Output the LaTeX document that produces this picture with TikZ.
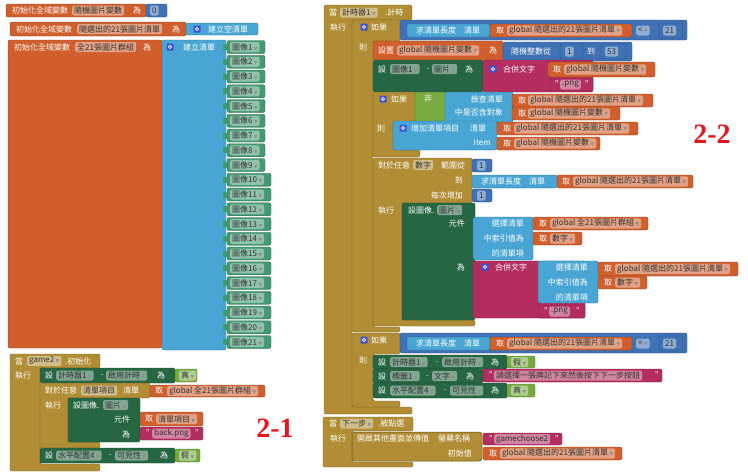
\documentclass[tikz,border=0pt]{standalone}
\usepackage{fontspec}
\setmainfont{Noto Sans CJK TC}
\newfontfamily\djv{DejaVu Sans}
\newfontfamily\lbs{Liberation Serif}
\definecolor{cO}{HTML}{D05F2D}
\definecolor{cL}{HTML}{49A6D4}
\definecolor{cM}{HTML}{3F71B5}
\definecolor{cS}{HTML}{266643}
\definecolor{cC}{HTML}{439970}
\definecolor{cG}{HTML}{B18E35}
\definecolor{cB}{HTML}{77AB41}
\definecolor{cT}{HTML}{B32D5E}
\definecolor{cGear}{HTML}{3B4FD8}
\definecolor{cRed}{HTML}{E8141B}
\newcommand\fsz{\fontsize{8}{9.6}\selectfont}
\newcommand\dd{\hspace{1.5pt}\textcolor{black!45}{\djv\fontsize{4.5}{5}\selectfont ▼}}
\tikzset{
 wt/.style={text=white,inner sep=0pt,anchor=west,font=\fsz},
 fld/.style={fill=white,fill opacity=0.42,text opacity=1,text=black!80,rounded corners=2pt,
   inner xsep=2pt,inner ysep=0.7pt,anchor=west,font=\fsz,minimum height=10pt},
 gearn/.style={fill=cGear,minimum size=7pt,inner sep=0pt,rounded corners=1pt,
   path picture={\draw[white,line width=0.8pt] (path picture bounding box.center) circle (1.6pt);}},
 cblk/.style={fill=#1,draw=#1!70!black,line width=0.4pt,rounded corners=2pt},
 lbl/.style={text=cRed,inner sep=0pt,font=\lbs\bfseries\fontsize{28}{28}\selectfont}
}
\newcommand\blkk[5]{\filldraw[cblk=#1] (#2,#3) rectangle (#4,#5);}
\newcommand\tW[4]{\node[wt] (#1) at (#2,#3) {#4};}
\newcommand\tE[4]{\node[wt,anchor=east] (#1) at (#2,#3) {#4};}
\newcommand\fD[4]{\node[fld] (#1) at (#2,#3) {#4};}
\newcommand\fDD[4]{\node[fld] (#1) at (#2,#3) {#4\dd};}
\newcommand\gearat[3]{\node[gearn] (#1) at (#2,#3) {};}
\begin{document}
\begin{tikzpicture}[x=1pt,y=-1pt]
\useasboundingbox (0,0) rectangle (748,474);
\fill[white] (0,0) rectangle (748,474);
% ---------- LEFT ----------
\blkk{cO}{6}{4}{146}{17}
\tW{a1}{12}{10.5}{初始化全域變數}
\fD{a2}{72}{10.5}{隨機圖片變數}
\tW{a3}{133}{10.5}{為}
\blkk{cM}{146}{4}{167}{17}
\fD{a4}{150}{10.5}{0}
\blkk{cO}{10}{22}{186}{36}
\tW{b1}{16}{29}{初始化全域變數}
\fD{b2}{77}{29}{隨選出的21張圖片清單}
\tW{b3}{172}{29}{為}
\blkk{cL}{186}{23}{258}{35}
\gearat{b4}{197}{29}
\tW{b5}{208}{29}{建立空清單}
\blkk{cO}{8}{40}{162}{348}
\tW{c1}{14}{47}{初始化全域變數}
\fD{c2}{75}{47}{全21張圖片群組}
\tW{c3}{143}{47}{為}
\blkk{cL}{162}{40}{226}{350}
\gearat{c4}{170}{47}
\tW{c5}{183}{47}{建立清單}
\foreach \i in {1,...,21}{
  \pgfmathsetmacro\yy{47+(\i-1)*14.75}
  \pgfmathsetmacro\xr{\i<10 ? 265 : 271}
  \fill[cC] (223,\yy-3) rectangle (228,\yy+3);
  \filldraw[cblk=cC] (227,\yy-6.5) rectangle (\xr,\yy+6.5);
  \node[fld] (c\i) at (230,\yy) {圖像\i\dd};
}
% game2 init
\filldraw[cblk=cG] (10,354)--(100,354)--(100,368)--(40,368)--(40,464)--(100,464)--(100,471)--(10,471)--cycle;
\tW{d1}{15}{361}{當}
\fDD{d2}{27}{361}{game2}
\tW{d3}{65}{361}{.初始化}
\tW{d4}{15}{375}{執行}
\blkk{cS}{40}{368}{175}{383}
\tW{d5}{45}{375.5}{設}
\fDD{d6}{56}{375.5}{計時器1}
\tW{d7}{101}{375.5}{.}
\fDD{d8}{106}{375.5}{啟用計時}
\tW{d9}{157}{375.5}{為}
\blkk{cB}{175}{369}{197}{382}
\fDD{d10}{179}{375.5}{真}
\filldraw[cblk=cG] (40,383)--(150,383)--(150,398)--(68,398)--(68,442)--(100,442)--(100,448)--(40,448)--cycle;
\tW{d11}{45}{390.5}{對於任意}
\fD{d12}{81}{390.5}{清單項目}
\tW{d13}{123}{390.5}{清單}
\blkk{cO}{150}{385}{265}{397}
\tW{d14}{155}{391}{取}
\fDD{d15}{167}{391}{global 全21張圖片群組}
\tW{d16}{45}{405}{執行}
\blkk{cS}{68}{398}{140}{442}
\tW{d17}{73}{405}{設圖像.}
\fDD{d18}{103}{405}{圖片}
\tW{d19}{114}{419}{元件}
\tW{d20}{122}{434}{為}
\blkk{cO}{140}{412}{203}{426}
\tW{d21}{145}{419}{取}
\fDD{d22}{156}{419}{清單項目}
\blkk{cT}{140}{427}{203}{440}
\tW{d23}{146}{433.5}{"}
\fD{d24}{152}{433.5}{back.png}
\tW{d25}{195}{433.5}{"}
\blkk{cS}{40}{448}{175}{463}
\tW{d26}{45}{455.5}{設}
\fDD{d27}{56}{455.5}{水平配置4}
\tW{d28}{109}{455.5}{.}
\fDD{d29}{115}{455.5}{可見性}
\tW{d30}{160}{455.5}{為}
\blkk{cB}{175}{449}{200}{462}
\fDD{d31}{179}{455.5}{假}
\node[lbl] (l1) at (275,428) {2-1};
% ---------- RIGHT ----------
\filldraw[cblk=cG] (324,5)--(412,5)--(412,20)--(352,20)--(352,407)--(412,407)--(412,414)--(324,414)--cycle;
\tW{e1}{329}{12.5}{當}
\fDD{e2}{340}{12.5}{計時器1}
\tW{e3}{385}{12.5}{.計時}
\tW{e4}{330}{27}{執行}
\filldraw[cblk=cG] (352,20)--(400,20)--(400,41)--(373,41)--(373,327)--(400,327)--(400,332)--(352,332)--cycle;
\gearat{e5}{364}{27}
\tW{e6}{371}{27}{如果}
\tW{e7}{359}{48}{則}
\blkk{cM}{400}{20}{687}{40}
\blkk{cL}{407}{24}{490}{37}
\tW{e8}{416}{30.5}{求清單長度}
\tW{e9}{464}{30.5}{清單}
\blkk{cO}{490}{24}{632}{37}
\tW{e10}{496}{30.5}{取}
\fDD{e11}{507}{30.5}{global 隨選出的21張圖片清單}
\fDD{e12}{636}{30.5}{<}
\blkk{cM}{659}{23}{683}{38}
\fD{e13}{663}{30.5}{21}
\blkk{cO}{373}{41}{503}{60}
\tW{e14}{378}{50.5}{設置}
\fDD{e15}{397}{50.5}{global 隨機圖片變數}
\tW{e16}{489}{50.5}{為}
\blkk{cM}{503}{42}{632}{61}
\tW{e17}{511}{51.5}{隨機整數從}
\blkk{cM}{560}{44}{583}{59}
\fD{e18}{565}{51.5}{1}
\tW{e19}{587}{51.5}{到}
\blkk{cM}{601}{44}{627}{59}
\fD{e20}{605}{51.5}{53}
\blkk{cS}{373}{60}{483}{92}
\tW{e21}{378}{69}{設}
\fDD{e22}{390}{69}{圖像1}
\tW{e23}{427}{69}{.}
\fDD{e24}{432}{69}{圖片}
\tW{e25}{465}{69}{為}
\blkk{cT}{483}{60}{593}{92}
\gearat{e26}{493}{69}
\tW{e27}{503}{69}{合併文字}
\blkk{cO}{548}{62}{655}{77}
\tW{e28}{553}{69.5}{取}
\fDD{e29}{564}{69.5}{global 隨機圖片變數}
\blkk{cT}{550}{78}{593}{91}
\tW{e30}{555}{84.5}{"}
\fD{e31}{560}{84.5}{.png}
\tW{e32}{585}{84.5}{"}
\filldraw[cblk=cG] (373,92)--(417,92)--(417,122)--(393,122)--(393,150)--(420,150)--(420,157)--(373,157)--cycle;
\gearat{e33}{383}{99}
\tW{e34}{391}{99}{如果}
\tW{e35}{377}{129}{則}
\blkk{cB}{415}{92}{447}{123}
\tW{e36}{424}{99}{非}
\blkk{cL}{445}{92}{513}{123}
\tE{e37}{503}{99}{檢查清單}
\tE{e38}{503}{112}{中是否含對象}
\blkk{cO}{512}{94}{653}{107}
\tW{e39}{518}{100.5}{取}
\fDD{e40}{528}{100.5}{global 隨選出的21張圖片清單}
\blkk{cO}{512}{107}{620}{120}
\tW{e41}{518}{113.5}{取}
\fDD{e42}{528}{113.5}{global 隨機圖片變數}
\blkk{cL}{393}{121}{497}{150}
\gearat{e43}{403}{128}
\tW{e44}{411}{128}{增加清單項目}
\tW{e45}{470}{128}{清單}
\tE{e46}{491}{143}{Item}
\blkk{cO}{497}{122}{638}{135}
\tW{e47}{503}{128.5}{取}
\fDD{e48}{514}{128.5}{global 隨選出的21張圖片清單}
\blkk{cO}{497}{137}{600}{150}
\tW{e49}{503}{143.5}{取}
\fDD{e50}{514}{143.5}{global 隨機圖片變數}
\filldraw[cblk=cG] (373,158)--(472,158)--(472,203)--(402,203)--(402,320)--(475,320)--(475,326)--(373,326)--cycle;
\tW{e51}{378}{165}{對於任意}
\fD{e52}{413}{165}{數字}
\tW{e53}{441}{165}{範圍從}
\blkk{cM}{472}{159}{492}{172}
\fD{e54}{477}{165.5}{1}
\tE{e55}{463}{180}{到}
\blkk{cL}{472}{175}{557}{188}
\tW{e56}{481}{181.5}{求清單長度}
\tW{e57}{529}{181.5}{清單}
\blkk{cO}{557}{175}{693}{188}
\tW{e58}{562}{181.5}{取}
\fDD{e59}{573}{181.5}{global 隨選出的21張圖片清單}
\tE{e60}{463}{195}{每次增加}
\blkk{cM}{472}{189}{492}{202}
\fD{e61}{477}{195.5}{1}
\tW{e62}{378}{210}{執行}
\blkk{cS}{402}{203}{475}{320}
\tW{e63}{408}{210}{設圖像.}
\fDD{e64}{437}{210}{圖片}
\tE{e65}{465}{223}{元件}
\tE{e66}{465}{267}{為}
\blkk{cL}{473}{217}{533}{260}
\tE{e67}{524}{223}{選擇清單}
\tE{e68}{524}{238}{中索引值為}
\tE{e69}{524}{253}{的清單項}
\blkk{cO}{533}{217}{648}{230}
\tW{e70}{539}{223.5}{取}
\fDD{e71}{550}{223.5}{global 全21張圖片群組}
\blkk{cO}{533}{232}{582}{245}
\tW{e72}{539}{238.5}{取}
\fDD{e73}{550}{238.5}{數字}
\blkk{cT}{473}{261}{585}{318}
\gearat{e74}{485}{267}
\tW{e75}{495}{267}{合併文字}
\blkk{cL}{538}{261}{598}{303}
\tE{e76}{588}{267}{選擇清單}
\tE{e77}{588}{282}{中索引值為}
\tE{e78}{588}{297}{的清單項}
\blkk{cO}{598}{262}{738}{276}
\tW{e79}{604}{269}{取}
\fDD{e80}{615}{269}{global 隨選出的21張圖片清單}
\blkk{cO}{598}{276}{647}{289}
\tW{e81}{604}{282.5}{取}
\fDD{e82}{615}{282.5}{數字}
\blkk{cT}{538}{305}{585}{318}
\tW{e83}{544}{311.5}{"}
\fD{e84}{549}{311.5}{.png}
\tW{e85}{576}{311.5}{"}
\filldraw[cblk=cG] (352,333)--(400,333)--(400,354)--(373,354)--(373,401)--(400,401)--(400,407)--(352,407)--cycle;
\gearat{e86}{364}{340}
\tW{e87}{371}{340}{如果}
\tW{e88}{359}{361}{則}
\blkk{cM}{400}{333}{687}{353}
\blkk{cL}{407}{337}{490}{350}
\tW{e89}{416}{343.5}{求清單長度}
\tW{e90}{464}{343.5}{清單}
\blkk{cO}{490}{337}{632}{350}
\tW{e91}{496}{343.5}{取}
\fDD{e92}{507}{343.5}{global 隨選出的21張圖片清單}
\fDD{e93}{636}{343.5}{=}
\blkk{cM}{659}{336}{683}{351}
\fD{e94}{663}{343.5}{21}
\blkk{cS}{373}{355}{507}{369}
\tW{e95}{378}{362}{設}
\fDD{e96}{390}{362}{計時器1}
\tW{e97}{436}{362}{.}
\fDD{e98}{442}{362}{啟用計時}
\tW{e99}{491}{362}{為}
\blkk{cB}{507}{356}{535}{368}
\fDD{e100}{511}{362}{假}
\blkk{cS}{373}{369}{483}{383}
\tW{f1}{378}{376}{設}
\fDD{f2}{390}{376}{標籤1}
\tW{f3}{426}{376}{.}
\fDD{f4}{432}{376}{文字}
\tW{f5}{466}{376}{為}
\blkk{cT}{483}{369}{662}{382}
\tW{f6}{489}{375.5}{"}
\fD{f7}{494}{375.5}{請選擇一張牌記下來然後按下下一步按鈕}
\tW{f8}{655}{375.5}{"}
\blkk{cS}{373}{383}{507}{398}
\tW{f9}{378}{390.5}{設}
\fDD{f10}{390}{390.5}{水平配置4}
\tW{f11}{444}{390.5}{.}
\fDD{f12}{450}{390.5}{可見性}
\tW{f13}{491}{390.5}{為}
\blkk{cB}{507}{384}{535}{397}
\fDD{f14}{511}{390.5}{真}
\node[lbl] (l2) at (712,134) {2-2};
% button event
\filldraw[cblk=cG] (323,417)--(413,417)--(413,431)--(352,431)--(352,462)--(413,462)--(413,467)--(323,467)--cycle;
\tW{g1}{329}{423.5}{當}
\fDD{g2}{340}{423.5}{下一步}
\tW{g3}{378}{423.5}{.被點選}
\tW{g4}{330}{438}{執行}
\filldraw[fill=cG,draw=cG!55!black,line width=0.5pt,rounded corners=3pt] (352,432) rectangle (482,461);
\tW{g5}{357}{438}{開啟其他畫面並傳值}
\tW{g6}{438}{438}{螢幕名稱}
\tE{g7}{472}{453}{初始值}
\blkk{cT}{483}{433}{562}{445}
\tW{g8}{489}{439}{"}
\fD{g9}{494}{439}{gamechoose2}
\tW{g10}{555}{439}{"}
\blkk{cO}{483}{447}{622}{460}
\tW{g11}{489}{453.5}{取}
\fDD{g12}{500}{453.5}{global 隨選出的21張圖片清單}
\end{tikzpicture}
\end{document}
